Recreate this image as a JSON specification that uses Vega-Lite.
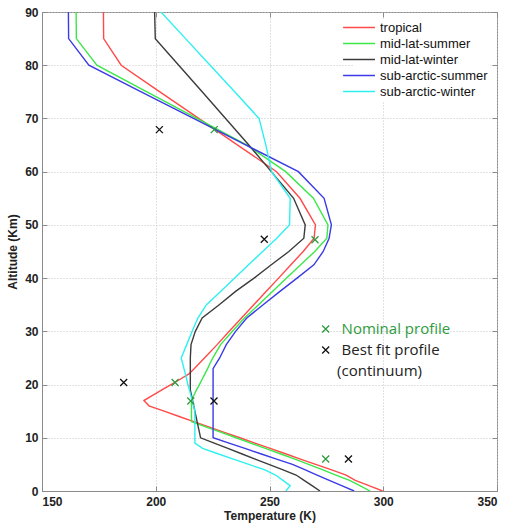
{
  "$schema": "https://vega.github.io/schema/vega-lite/v6.json",
  "width": 455,
  "height": 479,
  "autosize": {"type": "none"},
  "padding": {"left": 42, "top": 12, "right": 10, "bottom": 33},
  "background": "white",
  "config": {
    "view": {"stroke": "#8a8a8a", "strokeWidth": 1},
    "axis": {
      "labelFont": "Liberation Sans", "labelFontSize": 12, "labelFontWeight": "bold", "labelColor": "#222",
      "titleFont": "Liberation Sans", "titleFontSize": 12, "titleFontWeight": "bold", "titleColor": "#222",
      "domainColor": "#8a8a8a", "tickColor": "#8a8a8a", "gridColor": "#c4c4c4", "gridDash": [1, 2], "gridWidth": 1
    },
    "legend": {
      "labelFont": "Liberation Sans", "labelFontSize": 13, "labelColor": "#111"
    }
  },
  "datasets": {
    "profiles": [
      {"alt": 0, "tropical": 299.7, "mid-lat-summer": 294.2, "mid-lat-winter": 272.2, "sub-arctic-summer": 287.2, "sub-arctic-winter": 257.2},
      {"alt": 1, "tropical": 293.7, "mid-lat-summer": 289.7, "mid-lat-winter": 268.7, "sub-arctic-summer": 281.7, "sub-arctic-winter": 259.1},
      {"alt": 2, "tropical": 287.7, "mid-lat-summer": 285.2, "mid-lat-winter": 265.2, "sub-arctic-summer": 276.3, "sub-arctic-winter": 255.9},
      {"alt": 3, "tropical": 283.7, "mid-lat-summer": 279.2, "mid-lat-winter": 261.7, "sub-arctic-summer": 270.9, "sub-arctic-winter": 252.7},
      {"alt": 4, "tropical": 277.0, "mid-lat-summer": 273.2, "mid-lat-winter": 255.7, "sub-arctic-summer": 265.5, "sub-arctic-winter": 247.7},
      {"alt": 5, "tropical": 270.3, "mid-lat-summer": 267.2, "mid-lat-winter": 249.7, "sub-arctic-summer": 260.1, "sub-arctic-winter": 240.9},
      {"alt": 6, "tropical": 263.6, "mid-lat-summer": 261.2, "mid-lat-winter": 243.7, "sub-arctic-summer": 253.1, "sub-arctic-winter": 234.1},
      {"alt": 7, "tropical": 257.0, "mid-lat-summer": 254.7, "mid-lat-winter": 237.7, "sub-arctic-summer": 246.1, "sub-arctic-winter": 227.3},
      {"alt": 8, "tropical": 250.3, "mid-lat-summer": 248.2, "mid-lat-winter": 231.7, "sub-arctic-summer": 239.2, "sub-arctic-winter": 220.6},
      {"alt": 9, "tropical": 243.6, "mid-lat-summer": 241.7, "mid-lat-winter": 225.7, "sub-arctic-summer": 232.2, "sub-arctic-winter": 217.2},
      {"alt": 10, "tropical": 237.0, "mid-lat-summer": 235.3, "mid-lat-winter": 219.7, "sub-arctic-summer": 225.2, "sub-arctic-winter": 217.2},
      {"alt": 11, "tropical": 230.1, "mid-lat-summer": 228.8, "mid-lat-winter": 219.2, "sub-arctic-summer": 225.2, "sub-arctic-winter": 217.2},
      {"alt": 12, "tropical": 223.6, "mid-lat-summer": 222.3, "mid-lat-winter": 218.7, "sub-arctic-summer": 225.2, "sub-arctic-winter": 217.2},
      {"alt": 13, "tropical": 217.0, "mid-lat-summer": 215.8, "mid-lat-winter": 218.2, "sub-arctic-summer": 225.2, "sub-arctic-winter": 217.2},
      {"alt": 14, "tropical": 210.3, "mid-lat-summer": 215.7, "mid-lat-winter": 217.7, "sub-arctic-summer": 225.2, "sub-arctic-winter": 217.2},
      {"alt": 15, "tropical": 203.7, "mid-lat-summer": 215.7, "mid-lat-winter": 217.2, "sub-arctic-summer": 225.2, "sub-arctic-winter": 217.2},
      {"alt": 16, "tropical": 197.0, "mid-lat-summer": 215.7, "mid-lat-winter": 216.7, "sub-arctic-summer": 225.2, "sub-arctic-winter": 216.6},
      {"alt": 17, "tropical": 194.8, "mid-lat-summer": 215.7, "mid-lat-winter": 216.2, "sub-arctic-summer": 225.2, "sub-arctic-winter": 216.0},
      {"alt": 18, "tropical": 198.8, "mid-lat-summer": 216.8, "mid-lat-winter": 215.7, "sub-arctic-summer": 225.2, "sub-arctic-winter": 215.4},
      {"alt": 19, "tropical": 202.7, "mid-lat-summer": 217.9, "mid-lat-winter": 215.2, "sub-arctic-summer": 225.2, "sub-arctic-winter": 214.8},
      {"alt": 20, "tropical": 206.7, "mid-lat-summer": 219.2, "mid-lat-winter": 215.2, "sub-arctic-summer": 225.2, "sub-arctic-winter": 214.1},
      {"alt": 21, "tropical": 210.7, "mid-lat-summer": 220.4, "mid-lat-winter": 215.2, "sub-arctic-summer": 225.2, "sub-arctic-winter": 213.6},
      {"alt": 22, "tropical": 214.6, "mid-lat-summer": 221.6, "mid-lat-winter": 215.2, "sub-arctic-summer": 225.2, "sub-arctic-winter": 213.0},
      {"alt": 23, "tropical": 217.0, "mid-lat-summer": 222.8, "mid-lat-winter": 215.2, "sub-arctic-summer": 225.2, "sub-arctic-winter": 212.4},
      {"alt": 24, "tropical": 219.2, "mid-lat-summer": 223.9, "mid-lat-winter": 215.2, "sub-arctic-summer": 226.6, "sub-arctic-winter": 211.8},
      {"alt": 25, "tropical": 221.4, "mid-lat-summer": 225.1, "mid-lat-winter": 215.2, "sub-arctic-summer": 228.1, "sub-arctic-winter": 211.2},
      {"alt": 27.5, "tropical": 227.0, "mid-lat-summer": 228.5, "mid-lat-winter": 215.5, "sub-arctic-summer": 231.0, "sub-arctic-winter": 213.6},
      {"alt": 30, "tropical": 232.3, "mid-lat-summer": 233.7, "mid-lat-winter": 217.4, "sub-arctic-summer": 235.1, "sub-arctic-winter": 216.0},
      {"alt": 32.5, "tropical": 237.7, "mid-lat-summer": 239.0, "mid-lat-winter": 220.4, "sub-arctic-summer": 240.0, "sub-arctic-winter": 218.5},
      {"alt": 35, "tropical": 243.1, "mid-lat-summer": 245.2, "mid-lat-winter": 227.9, "sub-arctic-summer": 247.2, "sub-arctic-winter": 222.3},
      {"alt": 37.5, "tropical": 248.5, "mid-lat-summer": 251.3, "mid-lat-winter": 235.1, "sub-arctic-summer": 254.6, "sub-arctic-winter": 228.5},
      {"alt": 40, "tropical": 254.0, "mid-lat-summer": 257.5, "mid-lat-winter": 243.2, "sub-arctic-summer": 262.1, "sub-arctic-winter": 234.7},
      {"alt": 42.5, "tropical": 259.4, "mid-lat-summer": 263.7, "mid-lat-winter": 250.8, "sub-arctic-summer": 269.5, "sub-arctic-winter": 240.8},
      {"alt": 45, "tropical": 264.8, "mid-lat-summer": 269.9, "mid-lat-winter": 258.5, "sub-arctic-summer": 273.6, "sub-arctic-winter": 247.0},
      {"alt": 47.5, "tropical": 269.6, "mid-lat-summer": 275.2, "mid-lat-winter": 265.1, "sub-arctic-summer": 276.2, "sub-arctic-winter": 253.2},
      {"alt": 50, "tropical": 270.2, "mid-lat-summer": 275.7, "mid-lat-winter": 265.7, "sub-arctic-summer": 277.2, "sub-arctic-winter": 258.8},
      {"alt": 55, "tropical": 263.4, "mid-lat-summer": 269.3, "mid-lat-winter": 260.6, "sub-arctic-summer": 274.0, "sub-arctic-winter": 259.1},
      {"alt": 60, "tropical": 253.1, "mid-lat-summer": 257.1, "mid-lat-winter": 250.8, "sub-arctic-summer": 262.7, "sub-arctic-winter": 250.9},
      {"alt": 65, "tropical": 236.0, "mid-lat-summer": 240.1, "mid-lat-winter": 240.9, "sub-arctic-summer": 239.7, "sub-arctic-winter": 248.4},
      {"alt": 70, "tropical": 218.9, "mid-lat-summer": 218.1, "mid-lat-winter": 230.7, "sub-arctic-summer": 216.6, "sub-arctic-winter": 245.4},
      {"alt": 75, "tropical": 201.8, "mid-lat-summer": 196.1, "mid-lat-winter": 220.4, "sub-arctic-summer": 193.6, "sub-arctic-winter": 234.7},
      {"alt": 80, "tropical": 184.8, "mid-lat-summer": 174.1, "mid-lat-winter": 210.1, "sub-arctic-summer": 170.6, "sub-arctic-winter": 223.9},
      {"alt": 85, "tropical": 177.1, "mid-lat-summer": 165.1, "mid-lat-winter": 199.8, "sub-arctic-summer": 161.7, "sub-arctic-winter": 213.1},
      {"alt": 90, "tropical": 177.0, "mid-lat-summer": 165.0, "mid-lat-winter": 199.5, "sub-arctic-summer": 161.6, "sub-arctic-winter": 202.3}
    ],
    "markers": [
      {"kind": "nominal", "t": 225.7, "alt": 67.9},
      {"kind": "nominal", "t": 270.0, "alt": 47.2},
      {"kind": "nominal", "t": 208.5, "alt": 20.4},
      {"kind": "nominal", "t": 215.4, "alt": 16.9},
      {"kind": "nominal", "t": 274.7, "alt": 6.0},
      {"kind": "bestfit", "t": 201.6, "alt": 67.9},
      {"kind": "bestfit", "t": 247.7, "alt": 47.3},
      {"kind": "bestfit", "t": 185.9, "alt": 20.4},
      {"kind": "bestfit", "t": 225.6, "alt": 16.9},
      {"kind": "bestfit", "t": 284.7, "alt": 6.0},
      {"kind": "nominal", "t": 274.7, "alt": 30.45},
      {"kind": "bestfit", "t": 274.7, "alt": 26.5}
    ],
    "notes": [
      {"kind": "nominal", "t": 281.7, "alt": 30.45, "label": "Nominal profile"},
      {"kind": "bestfit", "t": 281.7, "alt": 26.5, "label": "Best fit profile"},
      {"kind": "bestfit", "t": 279.7, "alt": 22.6, "label": "(continuum)"}
    ]
  },
  "resolve": {"axis": {"x": "independent", "y": "independent"}},
  "layer": [
    {
      "data": {"name": "profiles"},
      "transform": [
        {"fold": ["tropical", "mid-lat-summer", "mid-lat-winter", "sub-arctic-summer", "sub-arctic-winter"], "as": ["profile", "t"]}
      ],
      "mark": {"type": "line", "strokeWidth": 1.4, "clip": true},
      "encoding": {
        "x": {"field": "t", "type": "quantitative", "scale": {"domain": [150, 350], "nice": false, "zero": false},
          "axis": {"orient": "bottom", "values": [150, 200, 250, 300, 350], "title": "Temperature (K)", "grid": true, "tickSize": -5, "labelPadding": 10, "titlePadding": 3}},
        "y": {"field": "alt", "type": "quantitative", "scale": {"domain": [0, 90], "nice": false, "zero": false},
          "axis": {"orient": "left", "values": [0, 10, 20, 30, 40, 50, 60, 70, 80, 90], "title": "Altitude (Km)", "grid": true, "tickSize": -5, "labelPadding": 9, "titlePadding": 5}},
        "order": {"field": "alt", "type": "quantitative"},
        "color": {"field": "profile", "type": "nominal",
          "scale": {"domain": ["tropical", "mid-lat-summer", "mid-lat-winter", "sub-arctic-summer", "sub-arctic-winter"],
                    "range": ["#ff4a4a", "#3ae84a", "#3c3c3c", "#3a3ae6", "#2ef0f0"]},
          "legend": {"orient": "top-right", "offset": 7, "title": null, "symbolType": "M-3.35,0H2.45", "symbolSize": 121, "symbolStrokeWidth": 1.5, "labelOffset": 12, "rowPadding": 2, "fillColor": "white", "padding": 2}}
      }
    },
    {
      "data": {"name": "markers"},
      "transform": [{"filter": "datum.kind === 'nominal'"}],
      "mark": {"type": "point", "shape": "M-1,-1L1,1M-1,1L1,-1", "size": 49, "filled": false, "strokeWidth": 1.3, "color": "#2e9b3e", "opacity": 1},
      "encoding": {
        "x": {"field": "t", "type": "quantitative", "axis": {"orient": "top", "values": [150, 200, 250, 300, 350], "labels": false, "title": null, "grid": false, "domain": false, "tickSize": -5}},
        "y": {"field": "alt", "type": "quantitative", "axis": {"orient": "right", "values": [0, 10, 20, 30, 40, 50, 60, 70, 80, 90], "labels": false, "title": null, "grid": false, "domain": false, "tickSize": -5}}
      }
    },
    {
      "data": {"name": "markers"},
      "transform": [{"filter": "datum.kind === 'bestfit'"}],
      "mark": {"type": "point", "shape": "M-1,-1L1,1M-1,1L1,-1", "size": 49, "filled": false, "strokeWidth": 1.3, "color": "#111111", "opacity": 1},
      "encoding": {
        "x": {"field": "t", "type": "quantitative", "axis": null},
        "y": {"field": "alt", "type": "quantitative", "axis": null}
      }
    },
    {
      "data": {"name": "notes"},
      "transform": [{"filter": "datum.kind === 'nominal'"}],
      "mark": {"type": "text", "align": "left", "baseline": "middle", "font": "Open Sans", "fontSize": 15, "color": "#2e9b3e"},
      "encoding": {
        "x": {"field": "t", "type": "quantitative", "axis": null},
        "y": {"field": "alt", "type": "quantitative", "axis": null},
        "text": {"field": "label"}
      }
    },
    {
      "data": {"name": "notes"},
      "transform": [{"filter": "datum.kind === 'bestfit'"}],
      "mark": {"type": "text", "align": "left", "baseline": "middle", "font": "Open Sans", "fontSize": 15, "color": "#222222"},
      "encoding": {
        "x": {"field": "t", "type": "quantitative", "axis": null},
        "y": {"field": "alt", "type": "quantitative", "axis": null},
        "text": {"field": "label"}
      }
    }
  ]
}
